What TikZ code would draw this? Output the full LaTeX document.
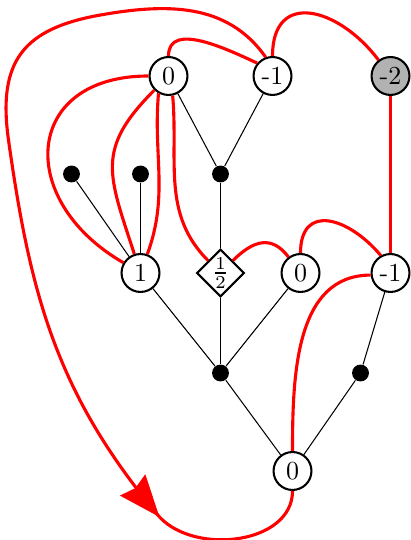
\documentclass[tikz,border=0pt]{standalone}
\usepackage{amsmath, amssymb}
\usepackage{xcolor}
\usetikzlibrary{arrows.meta, shapes.geometric, decorations.markings}

\begin{document}
\begin{tikzpicture}[x=38.5pt, y=38.5pt,
    vtx/.style={circle, draw, thick, minimum size=14.6pt, inner sep=0pt},
    blob/.style={circle, fill, minimum size=6.5pt, inner sep=0pt},
    halfbox/.style={diamond, draw, thick, minimum size=15.5pt, inner sep=0pt},
    tree/.style={black, thin},
    flow/.style={red, very thick},
    endarrow/.style={postaction={decorate}, decoration={markings,
        mark=at position 1 with {\arrow{Stealth[length=16pt, width=12.5pt, inset=1.5pt]}}}}]
\useasboundingbox (-0.005,0) rectangle (4.095,5.40);
% top row
\node[vtx] (T0) at (1.68,4.64) {0};
\node[vtx] (T1) at (2.72,4.64) {-1};
\node[vtx, fill=gray!60] (T2) at (3.90,4.64) {-2};
% dots
\node[blob] (D1) at (0.71,3.66) {};
\node[blob] (D2) at (1.40,3.66) {};
\node[blob] (D3) at (2.20,3.66) {};
% middle row
\node[vtx] (N1) at (1.40,2.67) {1};
\node[halfbox] (H) at (2.20,2.67) {$\frac{1}{2}$};
\node[vtx] (Z) at (3.00,2.67) {0};
\node[vtx] (M1) at (3.90,2.67) {-1};
\node[blob] (D4) at (2.20,1.67) {};
\node[blob] (D5) at (3.60,1.67) {};
% bottom
\node[vtx] (B) at (2.92,0.69) {0};
\coordinate (tip) at (1.59,0.23);

\foreach \a/\b in {T0/D3, T1/D3, D3/H, D1/N1, D2/N1, N1/D4, H/D4, Z/D4, M1/D5, D4/B, D5/B}{
    \draw[tree] (\a) -- (\b);
}

% red strands
\draw[flow] (T0.north) to[out=90, in=155] (T1.140);
\draw[flow, endarrow] (T1.110)
    to[out=125, in=10] (1.00,5.25)
    to[out=190, in=98, looseness=1.3] (0.08,4.00)
    to[out=-82, in=130] (tip);
\draw[flow] (tip) to[out=-47, in=-90] (B.south);
\draw[flow] (T1.north) to[out=90, in=127, looseness=1.6] (T2.127);
\draw[flow] (T2) -- (M1);
\draw[flow] (T0.west) to[out=180, in=150, looseness=1.7] (N1.149);
\draw[flow] (T0.225) to[out=225, in=108, looseness=1.3] (N1.108);
\draw[flow] (T0.240) to[out=265, in=70] (N1.70);
\draw[flow] (T0.282) to[out=-85, in=135] (H.north west);
\draw[flow] (H.north east) to[out=45, in=127, looseness=1.3] (Z.127);
\draw[flow] (Z.north) to[out=90, in=130, looseness=1.6] (M1.119);
\draw[flow] (M1.186) to[out=180, in=90] (B.north);
\end{tikzpicture}
\end{document}
